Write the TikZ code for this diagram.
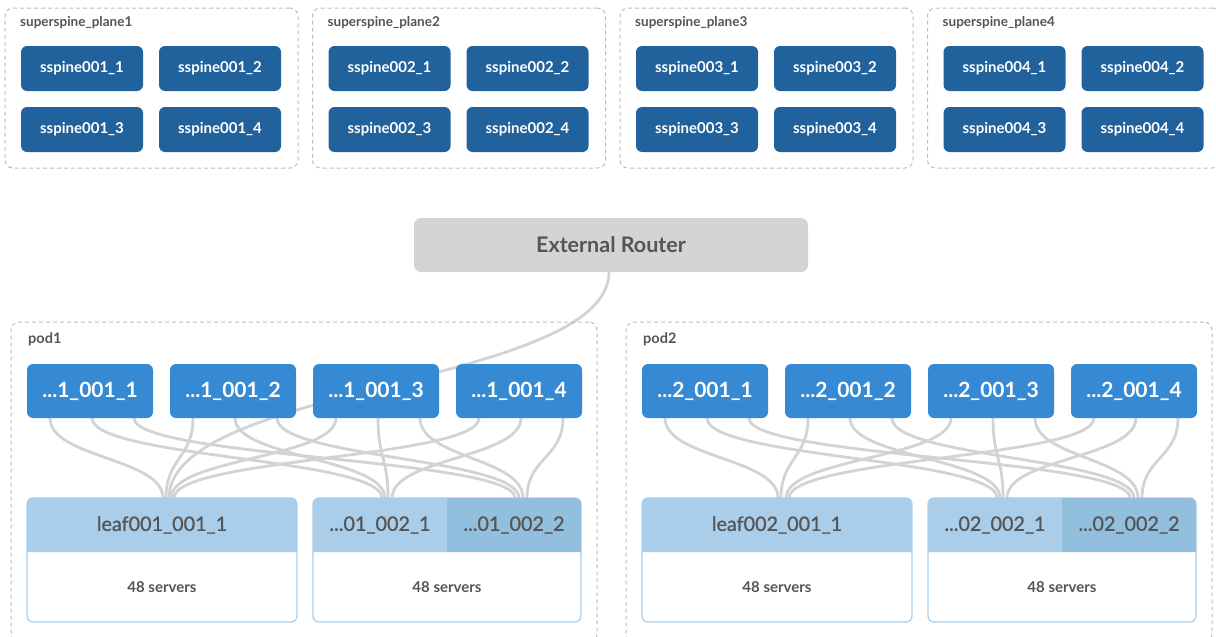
\documentclass[tikz,border=0pt]{standalone}
\usepackage{fontspec}
\setmainfont{Lato}
\newfontfamily\latomed[FakeBold=0.9]{Lato}
\usetikzlibrary{calc}
\definecolor{ssblue}{HTML}{22629C}
\definecolor{spblue}{HTML}{3689D3}
\definecolor{leaflight}{HTML}{AACEEA}
\definecolor{leafdark}{HTML}{93BFDF}
\definecolor{routerfill}{HTML}{D4D4D4}
\definecolor{txtgray}{HTML}{555555}
\definecolor{linkgray}{HTML}{D3D3D5}
\definecolor{dashgray}{HTML}{BDBDBD}
\pgfdeclarelayer{bg}
\pgfsetlayers{bg,main}
\begin{document}
\begin{tikzpicture}[x=1pt,y=-1pt,
  groupbox/.style={draw=dashgray, line width=1pt, dash pattern=on 4pt off 3pt, rounded corners=8pt, anchor=north west, inner sep=0pt, outer sep=0pt},
  grouplabel/.style={anchor=west, inner sep=0pt, text=txtgray, font=\bfseries\fontsize{13.5}{15}\selectfont},
  ssbox/.style={fill=ssblue, rounded corners=6pt, anchor=north west, inner sep=0pt, outer sep=0pt, minimum width=122pt, minimum height=45pt, text=white, font=\bfseries\fontsize{15}{17}\selectfont},
  spbox/.style={fill=spblue, rounded corners=6pt, anchor=north west, inner sep=0pt, outer sep=0pt, minimum width=126pt, minimum height=54pt, text=white, font=\bfseries\fontsize{21}{24}\selectfont},
  leafbody/.style={draw=leaflight, line width=1.2pt, fill=white, rounded corners=6pt, anchor=north west, inner sep=0pt, outer sep=0pt, minimum height=124pt},
  leafhead/.style={anchor=north west, inner sep=0pt, outer sep=0pt, minimum height=54pt, text=txtgray, font=\latomed\fontsize{19.8}{22}\selectfont},
  srvtext/.style={text=txtgray, inner sep=0pt, font=\bfseries\fontsize{15}{17}\selectfont},
  router/.style={fill=routerfill, rounded corners=7pt, anchor=north west, inner sep=0pt, outer sep=0pt, minimum width=394pt, minimum height=54pt, text=txtgray, font=\bfseries\fontsize{21.5}{24}\selectfont},
  link/.style={draw=linkgray, line width=2.8pt}
]
\useasboundingbox (0,0) rectangle (1216,637);

% superspine planes
\foreach \i in {1,...,4} {
  \pgfmathsetmacro\xo{5+307.5*(\i-1)}
  \node[groupbox, minimum width=293pt, minimum height=160pt] (plane\i) at (\xo,8) {};
  \node[grouplabel] (plane\i lbl) at (\xo+15,23) {superspine\_plane\i};
  \node[ssbox] (ss\i a) at (\xo+16,46) {sspine00\i\_1};
  \node[ssbox] (ss\i b) at (\xo+154,46) {sspine00\i\_2};
  \node[ssbox] (ss\i c) at (\xo+16,107) {sspine00\i\_3};
  \node[ssbox] (ss\i d) at (\xo+154,107) {sspine00\i\_4};
}

% external router
\node[router] (router) at (414,218) {External Router};

% pods
\foreach \p/\off in {1/0,2/615} {
  \node[groupbox, minimum width=586pt, minimum height=320pt] (pod\p) at (11+\off,322) {};
  \node[grouplabel, font=\bfseries\fontsize{14.5}{16}\selectfont] (pod\p lbl) at (28+\off,339) {pod\p};
  \foreach \s in {1,...,4} {
    \node[spbox] (pod\p sp\s) at (27+\off+143*\s-143,364) {...\p\_001\_\s};
  }
  % leaf bodies
  \node[leafbody, minimum width=270pt] (pod\p body1) at (27+\off,498) {};
  \node[leafbody, minimum width=268pt] (pod\p body2) at (313+\off,498) {};
  % header fills
  \fill[leaflight] (27+\off,552) [rounded corners=6pt] -- (27+\off,498) -- (297+\off,498) [sharp corners] -- (297+\off,552) -- cycle;
  \fill[leaflight] (313+\off,552) [rounded corners=6pt] -- (313+\off,498) [sharp corners] -- (447+\off,498) -- (447+\off,552) -- cycle;
  \fill[leafdark] (447+\off,552) -- (447+\off,498) [rounded corners=6pt] -- (581+\off,498) [sharp corners] -- (581+\off,552) -- cycle;
  \node[leafhead, minimum width=270pt] (pod\p la) at (27+\off,498) {leaf00\p\_001\_1};
  \node[leafhead, minimum width=134pt] (pod\p lb) at (313+\off,498) {...0\p\_002\_1};
  \node[leafhead, minimum width=134pt] (pod\p lc) at (447+\off,498) {...0\p\_002\_2};
  \node[srvtext] (pod\p srv1) at (162+\off,587) {48 servers};
  \node[srvtext] (pod\p srv2) at (447+\off,587) {48 servers};
}

% links
\begin{pgfonlayer}{bg}
\foreach \p in {1,2} {
  \foreach \s/\ta/\tb/\tc in {1/136/69/68,2/139/72/72,3/144/75/76,4/147/79/80} {
    \draw[link] ([xshift=23]pod\p sp\s.south west) .. controls +(0,40) and +(0,-40) .. ([xshift=\ta]pod\p la.north west);
    \draw[link] ([xshift=65]pod\p sp\s.south west) .. controls +(0,40) and +(0,-40) .. ([xshift=\tb]pod\p lb.north west);
    \draw[link] ([xshift=107]pod\p sp\s.south west) .. controls +(0,40) and +(0,-40) .. ([xshift=\tc]pod\p lc.north west);
  }
}
\draw[link] ([xshift=-2]router.south) .. controls +(0,113) and +(0,-113) .. ([xshift=142]pod1la.north west);
\end{pgfonlayer}
\end{tikzpicture}
\end{document}
